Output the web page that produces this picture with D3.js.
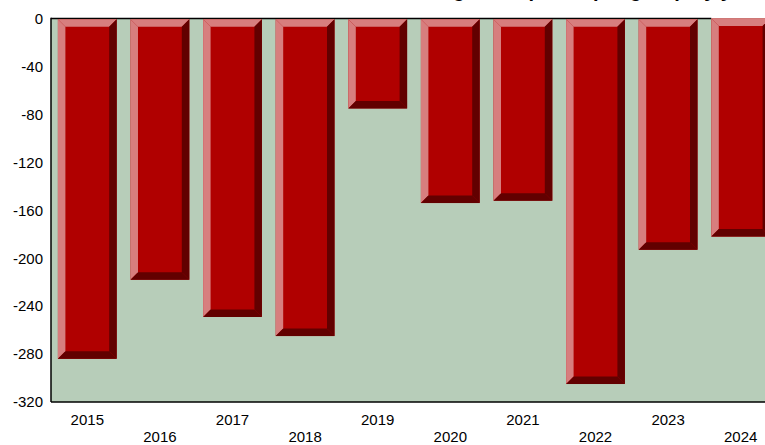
<!DOCTYPE html>
<html>
<head>
<meta charset="utf-8">
<script src="https://cdn.jsdelivr.net/npm/d3@7"></script>
<style>
  html, body { margin: 0; padding: 0; background: #ffffff; overflow: hidden; }
  svg { display: block; font-family: "Liberation Sans", Arial, sans-serif; }
</style>
</head>
<body>
<svg id="chart" width="765" height="445"></svg>
<script>
const categories = ["2015","2016","2017","2018","2019","2020","2021","2022","2023","2024"];
const values = [-284, -218, -249, -265, -75, -154, -152, -305, -193, -182];
const yTicks = [0, -40, -80, -120, -160, -200, -240, -280, -320];
const titleText = "Net change in deposits per group by year";

(function () {
const svg = d3.select("#chart");
const pLeft = 51, pRight = 777, pTop = 18.5, pBottom = 402;
const bevel = 7.5;

const x = d3.scaleBand().domain(categories).range([pLeft, pRight])
  .paddingInner(0.19).paddingOuter(0.095);
const y = d3.scaleLinear().domain([0, -320]).range([pTop, pBottom]);

// title (cut off at top)
svg.append("text")
  .attr("x", 762).attr("y", -2.6)
  .attr("text-anchor", "end")
  .attr("font-weight", "bold")
  .attr("font-size", 20)
  .attr("fill", "#000")
  .text(titleText);

// plot background
svg.append("rect")
  .attr("x", pLeft).attr("y", pTop)
  .attr("width", 765 - pLeft).attr("height", pBottom - pTop)
  .attr("fill", "#b7cdb9");

// top frame line
svg.append("line")
  .attr("x1", pLeft).attr("x2", x(categories[categories.length - 1]))
  .attr("y1", pTop).attr("y2", pTop)
  .attr("stroke", "#000").attr("stroke-width", 1.5);

// bars with bevel
const g = svg.append("g");
const pts = a => a.map(p => p.join(",")).join(" ");
categories.forEach((c, i) => {
  const x0 = x(c), x1 = x(c) + x.bandwidth();
  const y0 = y(0) + (i === categories.length - 1 ? 0 : 0.8), y1 = y(values[i]);
  const b = bevel;
  g.append("rect").attr("x", x0).attr("y", y0).attr("width", x1 - x0).attr("height", y1 - y0).attr("fill", "#b00000");
  g.append("polygon").attr("points", pts([[x0,y0],[x0+b,y0+b],[x0+b,y1-b],[x0,y1]])).attr("fill", "#d77e7e");
  g.append("polygon").attr("points", pts([[x0,y0],[x1,y0],[x1-b,y0+b],[x0+b,y0+b]])).attr("fill", "#d77e7e");
  g.append("polygon").attr("points", pts([[x1,y0],[x1,y1],[x1-b,y1-b],[x1-b,y0+b]])).attr("fill", "#620000");
  g.append("polygon").attr("points", pts([[x0,y1],[x1,y1],[x1-b,y1-b],[x0+b,y1-b]])).attr("fill", "#620000");
});

// axis lines
svg.append("line")
  .attr("x1", pLeft).attr("x2", pLeft).attr("y1", pTop - 0.75).attr("y2", pBottom)
  .attr("stroke", "#000").attr("stroke-width", 1.5);
svg.append("line")
  .attr("x1", pLeft).attr("x2", 765).attr("y1", pBottom).attr("y2", pBottom)
  .attr("stroke", "#000").attr("stroke-width", 1.5);

// y axis labels
const yAxis = d3.axisLeft(y).tickValues(yTicks).tickSize(0).tickPadding(8)
  .tickFormat(d => String(d));
const ya = svg.append("g").attr("transform", `translate(${pLeft},0)`).call(yAxis);
ya.select(".domain").remove();
ya.selectAll("text").attr("font-size", 15).attr("fill", "#000")
  .attr("font-family", "'Liberation Sans', Arial, sans-serif");

// x axis labels (staggered)
const xa = svg.append("g");
categories.forEach((c, i) => {
  xa.append("text")
    .attr("x", x(c) + x.bandwidth() / 2)
    .attr("y", i % 2 === 0 ? 425 : 442)
    .attr("text-anchor", "middle")
    .attr("font-size", 15)
    .attr("fill", "#000")
    .text(c);
});
})();
</script>
</body>
</html>
